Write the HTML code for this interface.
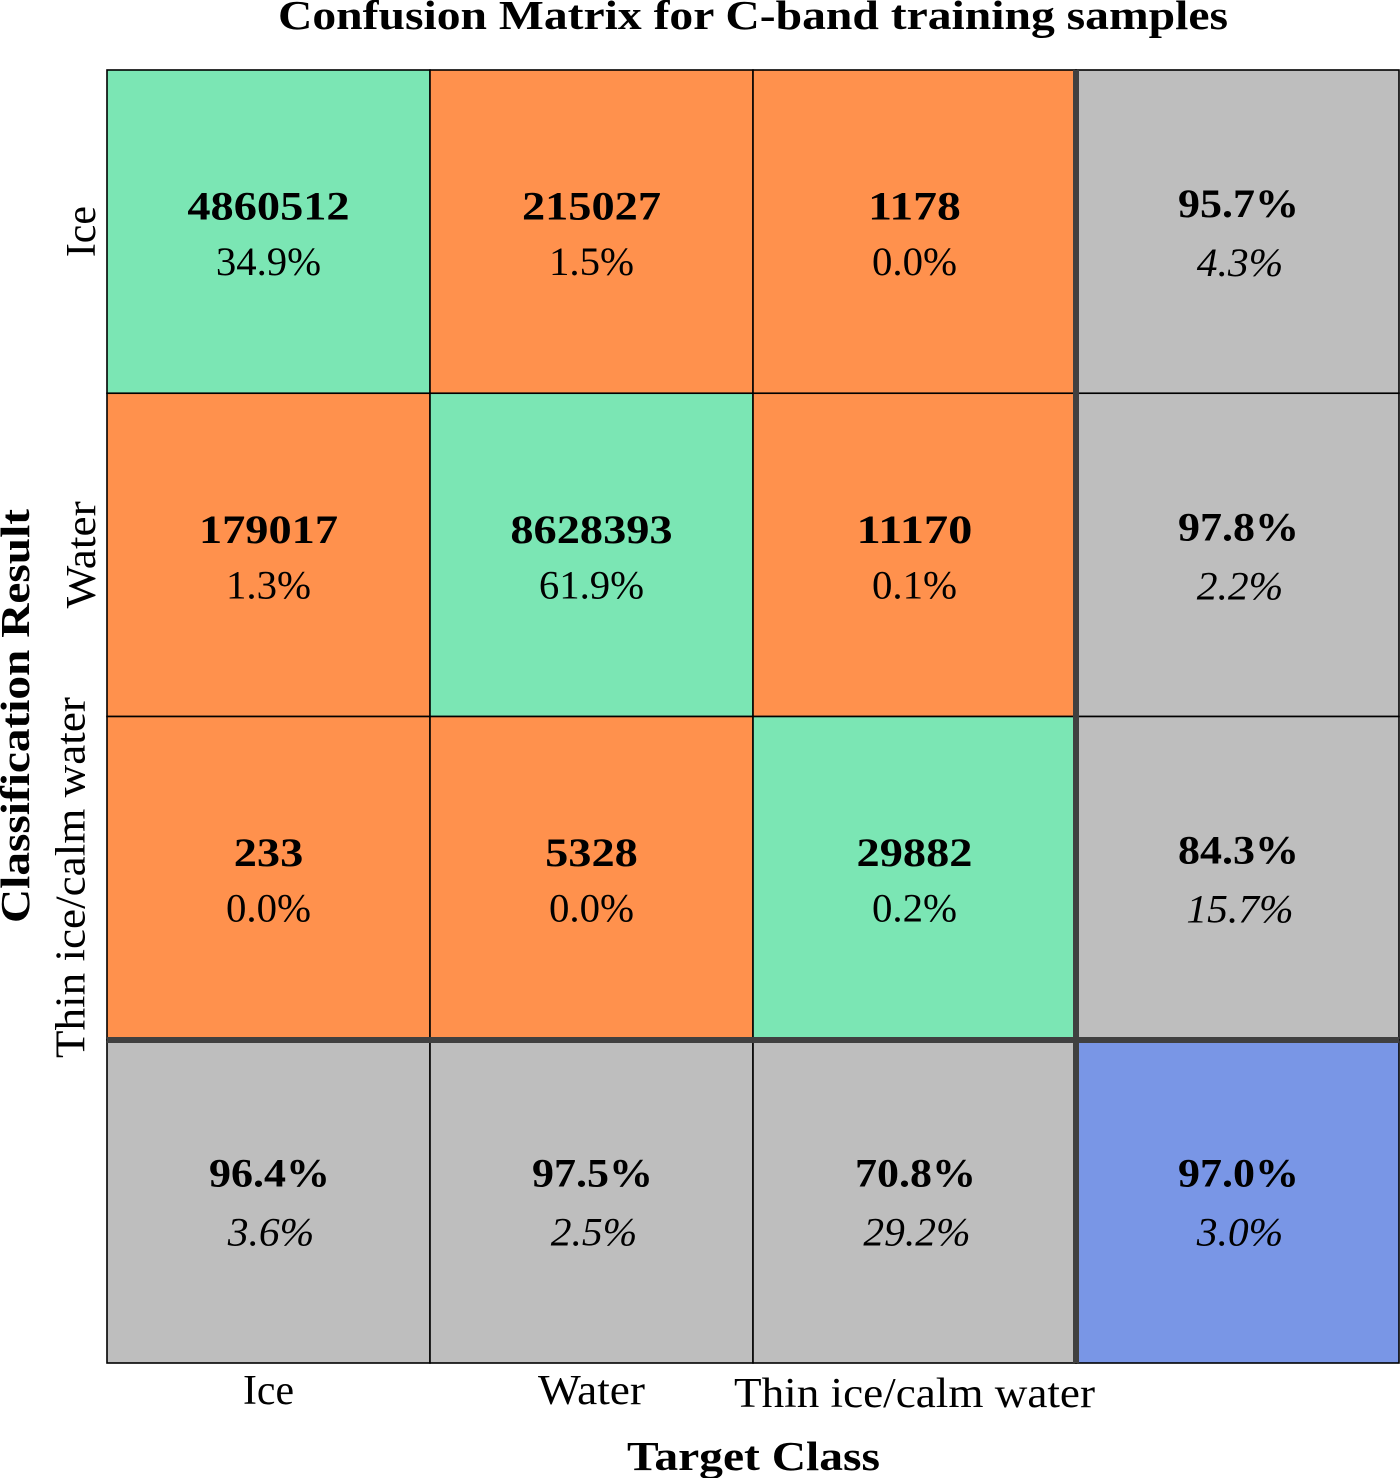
<!DOCTYPE html>
<html lang="en">
<head>
<meta charset="utf-8">
<title>Confusion Matrix for C-band training samples</title>
<style>
html,body{margin:0;padding:0;background:#fff;}
svg{display:block;}
text{font-family:"Liberation Serif","DejaVu Serif",serif;fill:#000;}
</style>
</head>
<body>
<svg id="chart" xmlns="http://www.w3.org/2000/svg" width="1400" height="1478" viewBox="0 0 1400 1478"></svg>
<script>
const categories = ["Ice", "Water", "Thin ice/calm water"];
const countsIce = [4860512, 215027, 1178];
const countsWater = [179017, 8628393, 11170];
const countsThin = [233, 5328, 29882];
const sharesIce = [34.9, 1.5, 0.0];
const sharesWater = [1.3, 61.9, 0.1];
const sharesThin = [0.0, 0.0, 0.2];
const rowPrecision = [95.7, 97.8, 84.3];
const rowError = [4.3, 2.2, 15.7];
const colPrecision = [96.4, 97.5, 70.8];
const colError = [3.6, 2.5, 29.2];
const overallAccuracy = [97.0];
const overallError = [3.0];

const counts = [countsIce, countsWater, countsThin];
const shares = [sharesIce, sharesWater, sharesThin];
const svg = document.getElementById('chart');
const NS = 'http://www.w3.org/2000/svg';
const GREEN = '#7be6b4', ORANGE = '#ff914d', GREY = '#bebebe', BLUE = '#7996e6';
const FS = 40;

function xEdge(i) { return 107 + i * 323; }
function yEdge(i) { return 70 + i * 323.25; }
function xMid(i) { return xEdge(i) + 161.5; }
function yMid(i) { return yEdge(i) + 161.6; }

// Approximate Computer Modern advance widths (em), used to fit the replacement serif face.
function cmWidth(s, style) {
  const t = {
    bold: { d: .575, p: .319, c: .958 },
    regular: { d: .5, p: .278, c: .833 },
    italic: { d: .511, p: .307, c: .818 }
  }[style];
  let w = 0;
  for (const ch of s) w += ch === '.' ? t.p : ch === '%' ? t.c : t.d;
  return w * 40.3;
}

function addText(name, str, x, y, size, opts) {
  opts = opts || {};
  const el = document.createElementNS(NS, 'text');
  
  
  el.setAttribute('x', x);
  el.setAttribute('y', y);
  el.setAttribute('font-size', size);
  el.setAttribute('text-anchor', 'middle');
  if (opts.bold) el.setAttribute('font-weight', 'bold');
  if (opts.italic) el.setAttribute('font-style', 'italic');
  if (opts.length) {
    el.setAttribute('textLength', opts.length);
    el.setAttribute('lengthAdjust', 'spacingAndGlyphs');
  }
  if (opts.rotate) el.setAttribute('transform', 'rotate(-90 ' + x + ' ' + y + ')');
  el.textContent = str;
  svg.appendChild(el);
}

function addCell(name, col, row, color) {
  const el = document.createElementNS(NS, 'rect');
  
  
  el.setAttribute('x', xEdge(col));
  el.setAttribute('y', yEdge(row));
  el.setAttribute('width', 323);
  el.setAttribute('height', 323.25);
  el.setAttribute('fill', color);
  el.setAttribute('stroke', '#000');
  el.setAttribute('stroke-width', 1.6);
  svg.appendChild(el);
}

function addDivider(name, x1, y1, x2, y2) {
  const el = document.createElementNS(NS, 'line');
  
  
  el.setAttribute('x1', x1);
  el.setAttribute('y1', y1);
  el.setAttribute('x2', x2);
  el.setAttribute('y2', y2);
  el.setAttribute('stroke', '#404040');
  el.setAttribute('stroke-width', 6);
  svg.appendChild(el);
}

function pct(v) { return v.toFixed(1) + '%'; }

function cellLabels(col, row, top, bottom, bottomStyle, nameBase) {
  const isSummary = bottomStyle === 'italic';
  const lastRowShift = row === 3 ? -0.5 : 0;
  const topX = xMid(col) + (isSummary ? 1 : 0);
  const bottomX = xMid(col) + (isSummary ? 2.5 : 0);
  const y0 = yEdge(row);
  addText(nameBase + '-value', top, topX, y0 + (isSummary ? 147 : 149.5) + lastRowShift, FS, {
    bold: true,
    length: cmWidth(top, 'bold')
  });
  addText(nameBase + '-percent', bottom, bottomX, y0 + (isSummary ? 206 : 205) + lastRowShift, FS, {
    italic: isSummary,
    length: cmWidth(bottom, bottomStyle)
  });
}

// Cells
categories.forEach(function (rowName, r) {
  categories.forEach(function (colName, c) {
    addCell('cell-row' + (r + 1) + '-col' + (c + 1), c, r, r === c ? GREEN : ORANGE);
  });
  addCell('row-summary-cell-' + (r + 1), 3, r, GREY);
  addCell('column-summary-cell-' + (r + 1), r, 3, GREY);
});
addCell('overall-accuracy-cell', 3, 3, BLUE);

// Dividers
addDivider('summary-column-divider', xEdge(3), yEdge(0), xEdge(3), yEdge(4));
addDivider('summary-row-divider', xEdge(0), 1040, xEdge(4), 1040);

// Tick labels and cell text
const TICK_FS = 42;
function labelLen(s) { return s.length > 6 ? 361 : s.length > 3 ? 107 : 51; }

categories.forEach(function (rowName, r) {
  categories.forEach(function (colName, c) {
    cellLabels(c, r, String(counts[r][c]), pct(shares[r][c]), 'regular', 'cell-row' + (r + 1) + '-col' + (c + 1));
  });
  cellLabels(3, r, pct(rowPrecision[r]), pct(rowError[r]), 'italic', 'row-summary-' + (r + 1));
  cellLabels(r, 3, pct(colPrecision[r]), pct(colError[r]), 'italic', 'column-summary-' + (r + 1));
});
cellLabels(3, 3, pct(overallAccuracy[0]), pct(overallError[0]), 'italic', 'overall-accuracy');

categories.forEach(function (name, i) {
  const wrapped = name.length > 6;
  addText('x-tick-label-' + (i + 1), name, xMid(i), wrapped ? 1407 : 1404, TICK_FS, { length: labelLen(name) });
  addText('y-tick-label-' + (i + 1), name, wrapped ? 84.5 : 95, yMid(i) - (wrapped ? 0.5 : 0), TICK_FS, { length: labelLen(name), rotate: true });
});

// Titles
addText('chart-title', 'Confusion Matrix for C-band training samples', 753, 29, 41, { bold: true, length: 950 });
addText('x-axis-title', 'Target Class', 753.5, 1470, 41, { bold: true, length: 253 });
addText('y-axis-title', 'Classification Result', 29, 716, 41, { bold: true, length: 414, rotate: true });
</script>
</body>
</html>
